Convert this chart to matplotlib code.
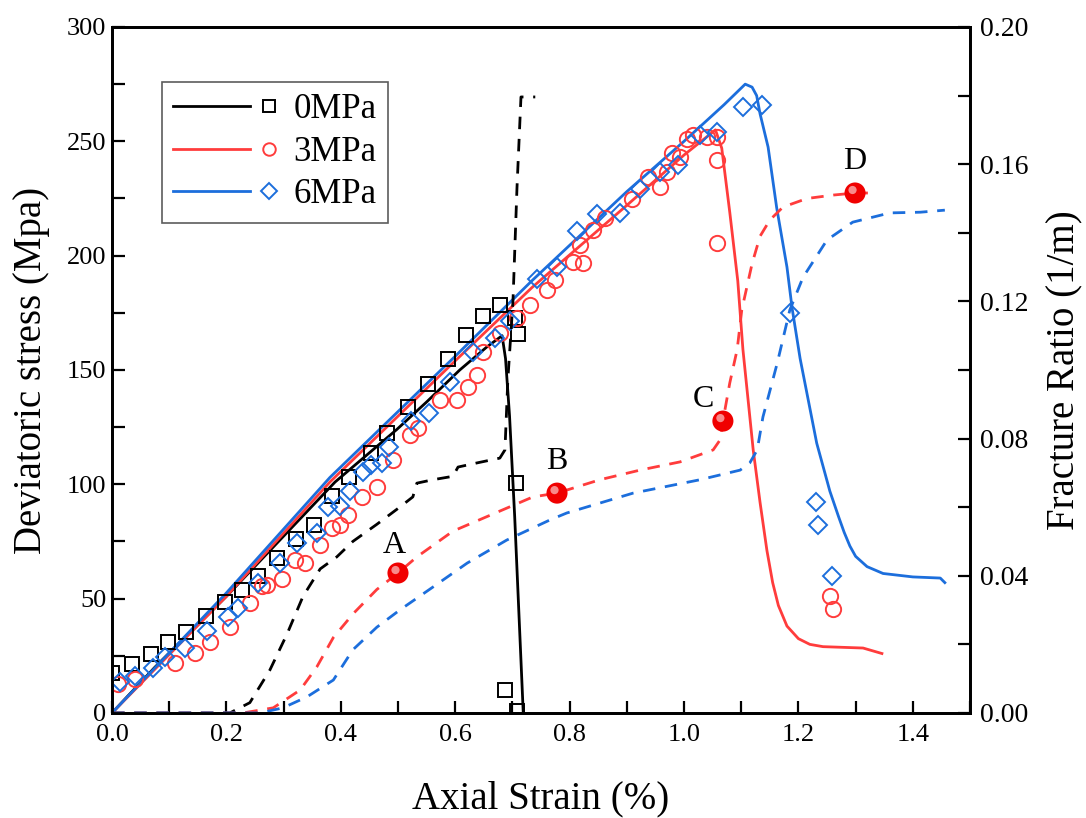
import matplotlib
matplotlib.use('Agg')
import matplotlib.pyplot as plt
import matplotlib.transforms as mtransforms
from matplotlib.lines import Line2D
from matplotlib.ticker import MultipleLocator, FormatStrFormatter

plt.rcParams['font.family'] = ['Liberation Serif', 'DejaVu Serif']

# ---- simulated stress curves (left axis) ----
sim0_x = [0, 0.075, 0.2, 0.39, 0.498, 0.55, 0.608, 0.655, 0.682, 0.688, 0.695, 0.704, 0.719]
sim0_y = [0, 20, 51, 101, 124, 136, 150, 160, 165, 155, 130, 86, 0]

sim3_x = [0, 0.2, 0.381, 0.6, 0.734, 0.9, 1.0, 1.04, 1.055, 1.066, 1.080, 1.094, 1.103,
          1.121, 1.133, 1.145, 1.155, 1.165, 1.18, 1.20, 1.22, 1.243, 1.313, 1.346]
sim3_y = [0, 51, 101, 154, 186, 222, 244, 252, 255, 247, 219, 189, 159,
          115, 92, 71, 57, 47, 38, 32.5, 30, 29, 28.4, 26]

sim6_x = [0, 0.2, 0.381, 0.6, 0.734, 0.9, 1.0, 1.07, 1.107, 1.119, 1.127, 1.133, 1.147,
          1.162, 1.180, 1.189, 1.203, 1.232, 1.255, 1.27, 1.28, 1.29, 1.30, 1.32, 1.348,
          1.40, 1.448, 1.456]
sim6_y = [0, 52.5, 103, 156, 189, 228, 250, 266, 275, 273.7, 270, 262, 247.5,
          221, 195, 177, 155, 118, 97, 86, 79, 73, 68.5, 64, 61,
          59.5, 59, 57]

# ---- test data (markers) ----
exp0_x = [0.0, 0.035, 0.068, 0.098, 0.129, 0.164, 0.198, 0.227, 0.255, 0.288, 0.321, 0.353,
          0.385, 0.414, 0.453, 0.481, 0.518, 0.552, 0.587, 0.619, 0.649, 0.678, 0.705, 0.710,
          0.706, 0.687, 0.708]
exp0_y = [17.5, 21.4, 25.8, 31, 35.4, 42.4, 48.5, 53.8, 60, 67.8, 76, 82,
          95, 103, 113.7, 122.4, 133.8, 143.9, 155, 165.3, 173.6, 178.4, 172.7, 165.7,
          100.6, 10, 0.9]

exp3_x = [0.010, 0.040, 0.110, 0.145, 0.171, 0.206, 0.241, 0.262, 0.271, 0.297, 0.320,
          0.337, 0.364, 0.384, 0.399, 0.413, 0.437, 0.463, 0.492, 0.521, 0.535, 0.573,
          0.603, 0.623, 0.638, 0.649, 0.678, 0.708, 0.731, 0.760, 0.774, 0.806, 0.824,
          0.818, 0.841, 0.862, 0.909, 0.937, 0.958, 0.970, 0.979, 0.993, 1.005, 1.016,
          1.040, 1.058, 1.058, 1.058, 1.255, 1.261]
exp3_y = [12.7, 14.8, 21.9, 26.2, 31, 37.6, 48, 55.5, 56, 58.6, 67,
          65.6, 73.5, 80.9, 82.2, 86.6, 94.5, 98.8, 110.6, 121.6, 124.6, 136.9,
          136.9, 142.6, 147.8, 157.8, 166, 172.7, 178.4, 185, 189.3, 197.2, 196.8,
          204.6, 211.2, 216.4, 224.7, 234.4, 230, 236.6, 244.9, 243, 251, 252.7,
          251.8, 251.8, 241.8, 205.5, 51, 45.5]

exp6_x = [0.014, 0.040, 0.072, 0.093, 0.128, 0.166, 0.203, 0.221, 0.255, 0.294, 0.323,
          0.358, 0.378, 0.399, 0.416, 0.438, 0.452, 0.472, 0.485, 0.522, 0.554, 0.591,
          0.631, 0.670, 0.695, 0.743, 0.778, 0.813, 0.848, 0.888, 0.923, 0.958, 0.990,
          1.028, 1.058, 1.103, 1.136, 1.185, 1.230, 1.234, 1.258]
exp6_y = [13.6, 16, 19.7, 24.5, 28.6, 36, 41.8, 45.9, 57, 65.6, 74.3,
          78.9, 90, 90.3, 97, 105.4, 108.4, 109.3, 116.3, 127.6, 131.2, 144.7,
          157.8, 164, 171.6, 189.7, 195, 210.8, 218.2, 218.6, 229.1, 236.6, 239.6,
          252.7, 254, 265, 265.8, 175, 92.3, 82.2, 60]

# ---- fracture ratio (right axis) ----
fr0_x = [0.0, 0.206, 0.241, 0.276, 0.306, 0.334, 0.364, 0.393, 0.421, 0.463, 0.503, 0.526,
         0.533, 0.561, 0.596, 0.605, 0.638, 0.678, 0.687, 0.692, 0.701, 0.708, 0.715,
         0.740]
fr0_y = [0.0, 0.0, 0.003, 0.0125, 0.023, 0.034, 0.042, 0.0455, 0.050, 0.055, 0.060, 0.063,
         0.067, 0.068, 0.069, 0.0717, 0.0729, 0.0743, 0.0767, 0.097, 0.12, 0.153, 0.1796,
         0.1796]

fr3_x = [0.0, 0.229, 0.282, 0.329, 0.358, 0.387, 0.422, 0.463, 0.500, 0.533, 0.596, 0.666,
         0.736, 0.778, 0.853, 0.923, 0.993, 1.051, 1.063, 1.068, 1.080, 1.093, 1.101,
         1.119, 1.133, 1.150, 1.173, 1.215, 1.261, 1.299, 1.337]
fr3_y = [0.0, 0.0, 0.0015, 0.0067, 0.0134, 0.022, 0.029, 0.036, 0.0408, 0.0455, 0.053, 0.058,
         0.063, 0.0641, 0.068, 0.0708, 0.0732, 0.0767, 0.0796, 0.0851, 0.0962, 0.106, 0.1175,
         0.131, 0.139, 0.1437, 0.1475, 0.150, 0.151, 0.1516, 0.1516]

fr6_x = [0.0, 0.259, 0.299, 0.341, 0.387, 0.421, 0.463, 0.503, 0.561, 0.621, 0.690, 0.766,
         0.795, 0.911, 1.028, 1.098, 1.115, 1.128, 1.138, 1.163, 1.185, 1.208, 1.250,
         1.295, 1.360, 1.413, 1.456]
fr6_y = [0.0, 0.0, 0.0015, 0.0047, 0.0096, 0.0184, 0.025, 0.030, 0.0367, 0.0437, 0.0504, 0.0563,
         0.0583, 0.0641, 0.068, 0.0708, 0.0729, 0.0767, 0.0863, 0.102, 0.1175, 0.127, 0.1379,
         0.1431, 0.1458, 0.146, 0.1466]

# marked stages on the 3MPa fracture curve
pt_labels = ['A', 'B', 'C', 'D']
pt_x = [0.500, 0.778, 1.068, 1.299]
pt_y = [0.0408, 0.0641, 0.0851, 0.1516]

black = '#000000'
red = '#FF3C3C'
blue = '#1C6EDC'
lw = 2.0


class LineThenMarker:
    # origin-style legend key: line segment, then the open marker
    def legend_artist(self, legend, orig_handle, fontsize, handlebox):
        x0, y0 = handlebox.xdescent, handlebox.ydescent
        w, h = handlebox.width, handlebox.height
        yc = y0 + h / 2
        c = orig_handle.get_color()
        ln = Line2D([x0, x0 + 0.72 * w], [yc, yc], color=c, lw=lw)
        mk = Line2D([x0 + 0.895 * w], [yc], ls='none', marker=orig_handle.get_marker(),
                    ms=orig_handle.get_markersize(), mfc='none', mec=c, mew=1.4)
        handlebox.add_artist(ln)
        handlebox.add_artist(mk)
        return ln


fig = plt.figure(figsize=(10.86, 8.18), dpi=100)
ax = fig.add_axes([0.1031, 0.1284, 0.7901, 0.8386])
ax2 = ax.twinx()

ax.plot(sim0_x, sim0_y, color=black, lw=lw, zorder=3)
ax.plot(sim3_x, sim3_y, color=red, lw=lw, zorder=3)
ax.plot(sim6_x, sim6_y, color=blue, lw=lw, zorder=3)

ax.plot(exp0_x, exp0_y, ls='none', marker='s', ms=9.5, mfc='none', mec=black, mew=1.4, zorder=4)
ax.plot(exp3_x, exp3_y, ls='none', marker='o', ms=11, mfc='none', mec=red, mew=1.4, zorder=4)
ax.plot(exp6_x, exp6_y, ls='none', marker='D', ms=9, mfc='none', mec=blue, mew=1.4, zorder=4)

dash = (0, (4.5, 3.5))
ax2.plot(fr0_x, fr0_y, color=black, lw=lw, ls=dash)
ax2.plot(fr3_x, fr3_y, color=red, lw=lw, ls=dash)
ax2.plot(fr6_x, fr6_y, color=blue, lw=lw, ls=dash)

# sphere-like points
ax2.scatter(pt_x, pt_y, s=230, color='#F00000', zorder=5, edgecolors='none')
hl = mtransforms.offset_copy(ax2.transData, fig=fig, x=-2.5, y=3, units='dots')
ax2.scatter(pt_x, pt_y, s=35, color='white', alpha=0.55, zorder=6, edgecolors='none', transform=hl)
lab_off = [(-3, 20), (0, 23), (-14, 15.5), (0, 23)]
for t, x, y, (dx, dy) in zip(pt_labels, pt_x, pt_y, lab_off):
    ax2.annotate(t, (x, y), xytext=(dx, dy), textcoords='offset points',
                 ha='center', va='center', fontsize=23)

ax.set_xlim(0, 1.5)
ax.set_ylim(0, 300)
ax2.set_ylim(0, 0.2)

ax.xaxis.set_major_locator(MultipleLocator(0.2))
ax.xaxis.set_minor_locator(MultipleLocator(0.1))
ax.yaxis.set_major_locator(MultipleLocator(50))
ax.yaxis.set_minor_locator(MultipleLocator(25))
ax2.yaxis.set_major_locator(MultipleLocator(0.04))
ax2.yaxis.set_minor_locator(MultipleLocator(0.02))
ax.xaxis.set_major_formatter(FormatStrFormatter('%.1f'))
ax2.yaxis.set_major_formatter(FormatStrFormatter('%.2f'))

for a in (ax, ax2):
    for s in a.spines.values():
        s.set_linewidth(2.0)
ax.tick_params(axis='both', which='both', direction='in', length=9, width=1.6, labelsize=19)
ax.tick_params(axis='x', pad=8)
ax.tick_params(axis='y', pad=4)
ax2.tick_params(axis='y', which='both', direction='in', length=9, width=1.6, labelsize=20, pad=7)

ax.set_xlabel('Axial Strain (%)', fontsize=28, labelpad=25)
ax.set_ylabel('Deviatoric stress (Mpa)', fontsize=28, labelpad=12)
ax2.set_ylabel('Fracture Ratio (1/m)', fontsize=28, labelpad=13)

handles = [Line2D([], [], color=black, marker='s', ms=8),
           Line2D([], [], color=red, marker='o', ms=9),
           Line2D([], [], color=blue, marker='D', ms=8)]
hmap = {h: LineThenMarker() for h in handles}
leg = ax.legend(handles, ['0MPa', '3MPa', '6MPa'], handler_map=hmap,
                loc='upper left', bbox_to_anchor=(0.058, 0.92), borderaxespad=0, fontsize=25,
                frameon=True, fancybox=False, edgecolor='#333333', handlelength=3.1,
                handletextpad=0.37, labelspacing=0.28, borderpad=0.32)
leg.get_frame().set_linewidth(1.2)

fig.savefig('out.png', dpi=100)
